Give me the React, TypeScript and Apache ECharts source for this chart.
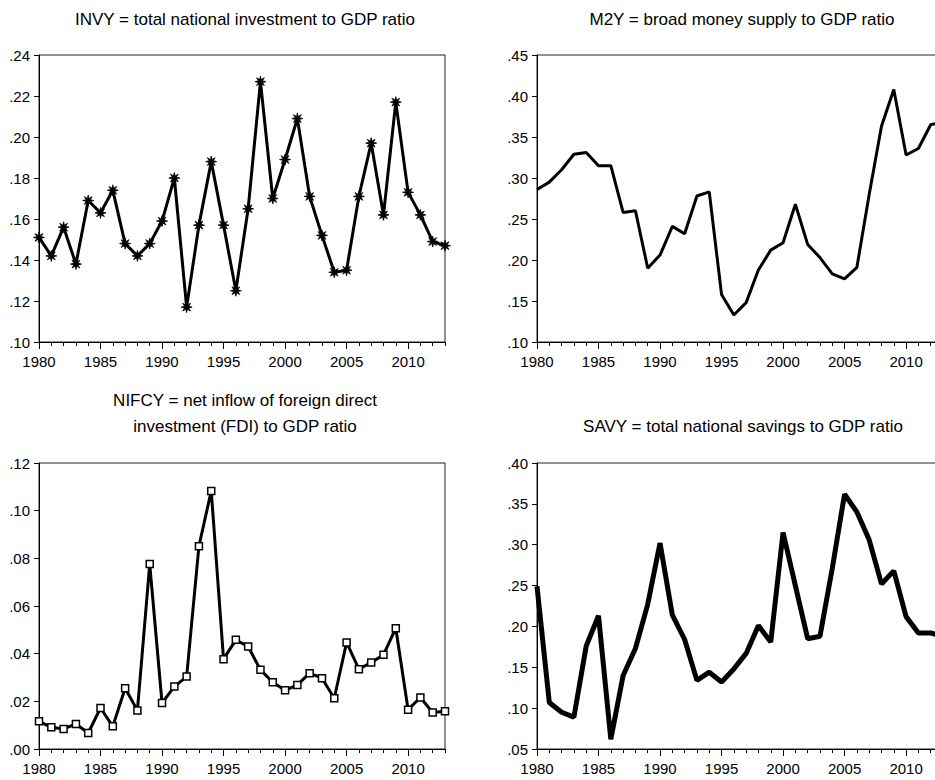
import React, { useEffect, useRef } from "react";
import * as echarts from "echarts";

const years = [
  1980, 1981, 1982, 1983, 1984, 1985, 1986, 1987, 1988, 1989, 1990, 1991,
  1992, 1993, 1994, 1995, 1996, 1997, 1998, 1999, 2000, 2001, 2002, 2003,
  2004, 2005, 2006, 2007, 2008, 2009, 2010, 2011, 2012, 2013,
];

const invy = [
  0.151, 0.142, 0.156, 0.138, 0.169, 0.163, 0.174, 0.148, 0.142, 0.148, 0.159,
  0.18, 0.117, 0.157, 0.188, 0.157, 0.125, 0.165, 0.227, 0.17, 0.189, 0.209,
  0.171, 0.152, 0.134, 0.135, 0.171, 0.197, 0.162, 0.217, 0.173, 0.162, 0.149,
  0.147,
];

const m2y = [
  0.286, 0.295, 0.31, 0.329, 0.331, 0.315, 0.315, 0.258, 0.26, 0.19, 0.206,
  0.241, 0.232, 0.278, 0.283, 0.158, 0.133, 0.148, 0.188, 0.212, 0.221, 0.268,
  0.219, 0.203, 0.183, 0.177, 0.191, 0.28, 0.363, 0.408, 0.328, 0.336, 0.365,
  0.368,
];

const nifcy = [
  0.0116, 0.0091, 0.0084, 0.0105, 0.0067, 0.0172, 0.0095, 0.0255, 0.0162,
  0.0776, 0.0193, 0.0262, 0.0304, 0.0851, 0.1083, 0.0377, 0.0458, 0.043,
  0.0332, 0.028, 0.0246, 0.0269, 0.0318, 0.0297, 0.0213, 0.0447, 0.0335,
  0.0363, 0.0395, 0.0507, 0.0165, 0.0216, 0.0153, 0.0158,
];

const savy = [
  0.249, 0.107, 0.095, 0.089, 0.176, 0.213, 0.062, 0.14, 0.173, 0.227, 0.302,
  0.214, 0.184, 0.134, 0.144, 0.132, 0.148, 0.167, 0.201, 0.181, 0.315, 0.25,
  0.185, 0.188, 0.271, 0.362, 0.34, 0.306, 0.252, 0.268, 0.212, 0.192, 0.192,
  0.188,
];

const majorYears = [1980, 1985, 1990, 1995, 2000, 2005, 2010];

const titles = [
  ["INVY = total national investment to GDP ratio"],
  ["M2Y = broad money supply to GDP ratio"],
  ["NIFCY = net inflow of foreign direct", "investment (FDI) to GDP ratio"],
  ["SAVY = total national savings to GDP ratio"],
];

const yMins = [0.1, 0.1, 0.0, 0.05];
const yMaxs = [0.24, 0.45, 0.12, 0.4];
const yIntervals = [0.02, 0.05, 0.02, 0.05];

const FONT = '"Liberation Sans", Arial, Helvetica, sans-serif';
const ASTERISK =
  "path://M10 0 L3.7 1.53 L7.07 7.07 L1.53 3.7 L0 10 L-1.53 3.7 L-7.07 7.07 L-3.7 1.53 L-10 0 L-3.7 -1.53 L-7.07 -7.07 L-1.53 -3.7 L0 -10 L1.53 -3.7 L7.07 -7.07 L3.7 -1.53 Z";

export default function App() {
  const ref = useRef<HTMLDivElement>(null);

  useEffect(() => {
    if (!ref.current) return;
    const chart = echarts.init(ref.current, null, { renderer: "svg" });

    const grids = [
      { left: 39, top: 55, width: 406, height: 287 },
      { left: 537, top: 55, width: 406, height: 287 },
      { left: 39, top: 463, width: 406, height: 286 },
      { left: 537, top: 463, width: 406, height: 286 },
    ];

    const fmtY = (v: number) => v.toFixed(2).replace(/^0/, "");

    const xAxes: any[] = [];
    const yAxes: any[] = [];
    grids.forEach((_, i) => {
      xAxes.push({
        type: "value",
        gridIndex: i,
        position: "bottom",
        min: 1980,
        max: 2013,
        interval: 1,
        axisLine: { show: true, onZero: false, lineStyle: { color: "#000", width: 1 } },
        axisTick: { show: true, length: 4, lineStyle: { color: "#000", width: 1 } },
        axisLabel: {
          formatter: (v: number) => (majorYears.indexOf(v) >= 0 ? String(v) : ""),
          fontSize: 15,
          fontFamily: FONT,
          color: "#000",
          margin: 12,
        },
        splitLine: { show: false },
      });
      xAxes.push({
        type: "value",
        gridIndex: i,
        position: "bottom",
        min: 1980,
        max: 2013,
        interval: 5,
        axisLine: { show: false, onZero: false },
        axisTick: {
          show: true,
          length: 7,
          customValues: majorYears,
          lineStyle: { color: "#000", width: 1 },
        },
        axisLabel: { show: false },
        splitLine: { show: false },
      });
      yAxes.push({
        type: "value",
        gridIndex: i,
        min: yMins[i],
        max: yMaxs[i],
        interval: yIntervals[i],
        axisLine: { show: true, lineStyle: { color: "#000", width: 1 } },
        axisTick: { show: true, length: 5, lineStyle: { color: "#000", width: 1 } },
        axisLabel: {
          formatter: fmtY,
          fontSize: 15,
          fontFamily: FONT,
          color: "#000",
          margin: 9,
        },
        splitLine: { show: false },
      });
    });

    const pairs = (arr: number[]) => years.map((y, i) => [y, arr[i]]);

    const series: any[] = [
      {
        type: "line",
        xAxisIndex: 0,
        yAxisIndex: 0,
        data: pairs(invy),
        symbol: ASTERISK,
        symbolSize: 11,
        showSymbol: true,
        itemStyle: { color: "#000", borderColor: "#000", borderWidth: 0.8 },
        lineStyle: { color: "#000", width: 3 },
      },
      {
        type: "line",
        xAxisIndex: 2,
        yAxisIndex: 1,
        data: pairs(m2y),
        showSymbol: false,
        symbol: "none",
        lineStyle: { color: "#000", width: 3 },
      },
      {
        type: "line",
        xAxisIndex: 4,
        yAxisIndex: 2,
        data: pairs(nifcy),
        symbol: "rect",
        symbolSize: 7,
        showSymbol: true,
        itemStyle: { color: "#fff", borderColor: "#000", borderWidth: 1.5 },
        lineStyle: { color: "#000", width: 3 },
      },
      {
        type: "line",
        xAxisIndex: 6,
        yAxisIndex: 3,
        data: pairs(savy),
        showSymbol: false,
        symbol: "none",
        lineStyle: { color: "#000", width: 5 },
      },
    ];

    const titlePos = [
      { x: 245, y: [19] },
      { x: 742, y: [19] },
      { x: 245, y: [400, 426] },
      { x: 743, y: [426] },
    ];

    const graphic: any[] = [];
    titles.forEach((lines, i) => {
      lines.forEach((t, j) => {
        graphic.push({
          type: "text",
          x: titlePos[i].x,
          y: titlePos[i].y[j],
          style: {
            text: t,
            font: `17px ${FONT}`,
            fill: "#000",
            align: "center",
            verticalAlign: "middle",
          },
        });
      });
    });

    chart.setOption({
      animation: false,
      backgroundColor: "#fff",
      grid: grids.map((g) => ({
        ...g,
        show: true,
        borderColor: "#222",
        borderWidth: 1,
        backgroundColor: "transparent",
      })),
      xAxis: xAxes,
      yAxis: yAxes,
      series,
      graphic,
    });

    return () => chart.dispose();
  }, []);

  return (
    <div
      style={{
        position: "fixed",
        left: 0,
        top: 0,
        width: 935,
        height: 780,
        overflow: "hidden",
        background: "#fff",
      }}
    >
      <div ref={ref} style={{ width: 960, height: 780 }} />
    </div>
  );
}
